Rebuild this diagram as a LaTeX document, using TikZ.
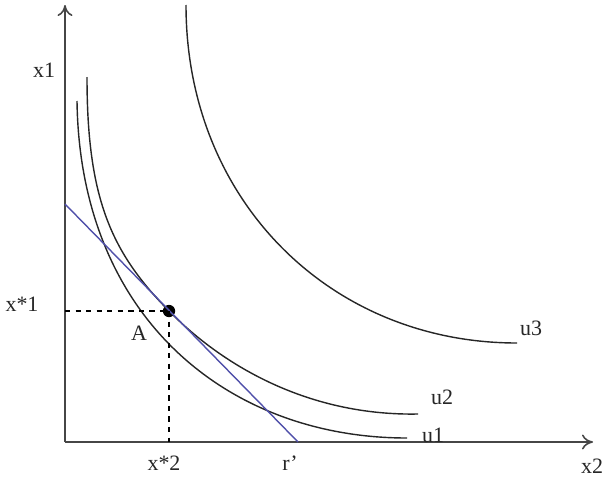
\documentclass[tikz,border=0pt]{standalone}
\usepackage{fontspec}
\setmainfont{Liberation Serif}
\usetikzlibrary{arrows.meta,positioning,calc}
\definecolor{budget}{RGB}{80,80,170}
\definecolor{axisgray}{RGB}{70,70,70}
\tikzset{
  axis/.style={-{To[length=2.2mm,width=3mm]}, draw=axisgray, line width=0.9pt},
  indiff/.style={draw=black!85, line width=0.8pt},
  budgetline/.style={draw=budget, line width=0.8pt},
  guide/.style={dashed, line width=0.6pt},
  lbl/.style={font=\fontsize{12.5}{14}\selectfont, inner sep=1pt, text=black!85},
  optdot/.style={circle, fill=black, inner sep=0pt, minimum size=7pt},
}
\begin{document}
\begin{tikzpicture}[x=0.02cm, y=-0.02cm]
  \useasboundingbox (0,0) rectangle (607,480);
  % axes
  \coordinate (O) at (65,442);
  \coordinate (ytop) at (65,5);
  \coordinate (xend) at (593,442);
  \draw[axis] (O) -- (ytop);
  \draw[axis] (O) -- (xend);
  \node[lbl] (x1) at (44,70) {x1};
  \node[lbl] (x2) at (592,466) {x2};
  % optimum
  \node[optdot] (A) at (169,311) {};
  % indifference curves
  \coordinate (u1s) at (77,101);
  \coordinate (u1e) at (407,438);
  \coordinate (u2s) at (87,77);
  \coordinate (u2e) at (418,414);
  \coordinate (u3s) at (186,5);
  \coordinate (u3e) at (517,343);
  \draw[indiff] (u1s) .. controls (80,320) and (230,438) .. (u1e);
  \draw[indiff] (u2s) .. controls (87,200) and (112,253) .. (A.center)
                      .. controls (224,367) and (310,416) .. (u2e);
  \draw[indiff] (u3s) .. controls (186,200) and (330,343) .. (u3e);
  \node[lbl, anchor=west] (u1) at (420,435) {u1};
  \node[lbl, anchor=west] (u2) at (429,397) {u2};
  \node[lbl, anchor=west] (u3) at (518,328) {u3};
  % budget line
  \coordinate (b1) at (65,204);
  \coordinate (b2) at (298,442);
  \draw[budgetline] (b1) -- (b2);
  \node[lbl] (rp) at (290,463) {r’};
  % guides to the axes
  \coordinate (Ay) at (65,311);
  \coordinate (Ax) at (169,442);
  \draw[guide] (Ay) -- (A.center);
  \draw[guide] (A.center) -- (Ax);
  \node[lbl] (Alab) at (139,333) {A};
  \node[lbl] (xs1) at (22,304) {x*1};
  \node[lbl] (xs2) at (164,463) {x*2};
\end{tikzpicture}
\end{document}
